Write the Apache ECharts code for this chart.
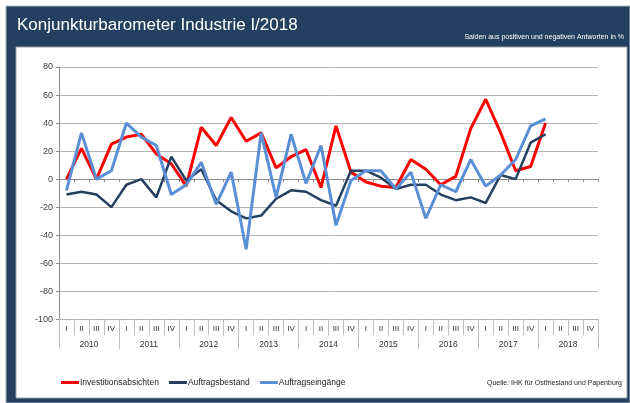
<!DOCTYPE html>
<html>
<head>
<meta charset="utf-8">
<script src="https://cdn.jsdelivr.net/npm/echarts@6/dist/echarts.min.js"></script>
<style>
html,body{margin:0;padding:0;background:#fff;}
#c{width:630px;height:403px;}
</style>
</head>
<body>
<div id="c"></div>
<script>
var quarterLabels = ['I','II','III','IV','I','II','III','IV','I','II','III','IV','I','II','III','IV','I','II','III','IV','I','II','III','IV','I','II','III','IV','I','II','III','IV','I','II','III','IV'];
var years = ['2010','2011','2012','2013','2014','2015','2016','2017','2018'];
var investitionsabsichten = [0,22,0,25,30,32,18,11,-5,37,24,44,27,33,8,16,21,-6,38,5,-2,-5,-6,14,7,-4,2,36,57,33,6,9,40];
var auftragsbestand = [-11,-9,-11,-20,-4,0,-13,16,-1,7,-15,-23,-28,-26,-14,-8,-9,-15,-19,6,6,1,-7,-4,-4,-11,-15,-13,-17,3,0,26,32];
var auftragseingaenge = [-8,33,0,6,40,30,24,-11,-4,12,-18,5,-50,33,-13,32,-3,24,-33,-1,6,6,-7,5,-28,-4,-9,14,-5,3,14,38,43];
var yTicks = {min:-100, max:80, interval:20};

var quarterIds = quarterLabels.map(function(q,i){ return years[Math.floor(i/4)] + ' ' + q; });
var font = 'Liberation Sans, Arial, sans-serif';
var chart = echarts.init(document.getElementById('c'));
chart.setOption({
  animation:false,
  textStyle:{fontFamily:font},
  graphic:[
    {type:'rect', z:-10, shape:{x:6,y:6,width:624,height:397}, style:{fill:'#243f60', stroke:'#a9b2bc', lineWidth:1}},
    {type:'rect', z:-9, shape:{x:16,y:47,width:611,height:351}, style:{fill:'#ffffff', stroke:'#9aa0a8', lineWidth:1}}
  ],
  title:[
    {text:'Konjunkturbarometer Industrie I/2018', left:12, top:12, textStyle:{color:'#ffffff', fontSize:17, fontWeight:'normal', fontFamily:font}},
    {text:'Salden aus positiven und negativen Antworten in %', right:1, top:29, textStyle:{color:'#ffffff', fontSize:7, fontWeight:'normal', fontFamily:font}},
    {text:'Quelle: IHK für Ostfriesland und Papenburg', right:3, top:375, textStyle:{color:'#222222', fontSize:7, fontWeight:'normal', fontFamily:font}}
  ],
  legend:{
    left:56, top:373, icon:'rect', itemWidth:18, itemHeight:3, itemGap:10,
    textStyle:{fontSize:8.5, color:'#222222', fontFamily:font, padding:[0,0,0,-4]},
    data:['Investitionsabsichten','Auftragsbestand','Auftragseingänge']
  },
  grid:{left:59, right:32, top:67, bottom:83.7, containLabel:false},
  xAxis:[
    {type:'category', data:quarterIds, boundaryGap:true,
     axisLine:{onZero:true, lineStyle:{color:'#8c8c8c', width:1}},
     axisTick:{show:true, length:3, interval:0, lineStyle:{color:'#8c8c8c'}},
     axisLabel:{show:false}, splitLine:{show:false}},
    {type:'category', data:quarterLabels, position:'bottom', boundaryGap:true,
     axisLine:{show:false, onZero:false},
     axisTick:{show:true, length:16, interval:0, lineStyle:{color:'#bfbfbf'}},
     axisLabel:{interval:0, fontSize:8, color:'#333333', margin:5, fontFamily:font},
     splitLine:{show:false}},
    {type:'category', data:years, position:'bottom', boundaryGap:true,
     axisLine:{show:false, onZero:false},
     axisTick:{show:true, length:30, interval:0, lineStyle:{color:'#bfbfbf'}},
     axisLabel:{interval:0, fontSize:8.5, color:'#333333', margin:21, fontFamily:font},
     splitLine:{show:false}}
  ],
  yAxis:{
    type:'value', min:yTicks.min, max:yTicks.max, interval:yTicks.interval,
    axisLine:{show:true, lineStyle:{color:'#8c8c8c'}},
    axisTick:{show:true, length:3, lineStyle:{color:'#8c8c8c'}},
    axisLabel:{fontSize:9, color:'#404040', margin:6, fontFamily:font},
    splitLine:{show:true, lineStyle:{color:'#b3b3b3', width:1}}
  },
  series:[
    {name:'Investitionsabsichten', type:'line', xAxisIndex:0, data:investitionsabsichten, showSymbol:false, symbol:'none',
     lineStyle:{color:'#ff0000', width:3}, itemStyle:{color:'#ff0000'}},
    {name:'Auftragsbestand', type:'line', xAxisIndex:0, data:auftragsbestand, showSymbol:false, symbol:'none',
     lineStyle:{color:'#243f60', width:2.5}, itemStyle:{color:'#243f60'}},
    {name:'Auftragseingänge', type:'line', xAxisIndex:0, data:auftragseingaenge, showSymbol:false, symbol:'none',
     lineStyle:{color:'#5a8fd6', width:3}, itemStyle:{color:'#5a8fd6'}}
  ]
});
</script>
</body>
</html>
